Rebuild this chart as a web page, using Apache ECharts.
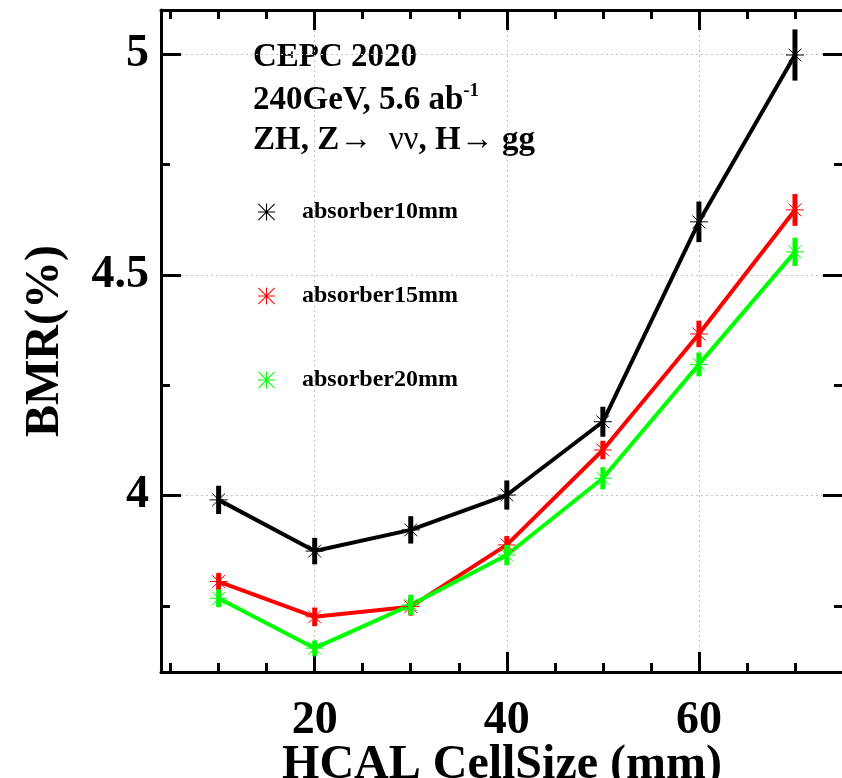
<!DOCTYPE html>
<html>
<head>
<meta charset="utf-8">
<script src="https://cdn.jsdelivr.net/npm/echarts@6/dist/echarts.min.js"></script>
<style>
html,body{margin:0;padding:0;background:#fff;}
#chart{width:842px;height:778px;}
</style>
</head>
<body>
<div id="chart"></div>
<script>
// ---- data ----
const cellSize = [10, 20, 30, 40, 50, 60, 70];
const bmr10 = [3.990, 3.874, 3.922, 4.001, 4.167, 4.620, 4.998];
const err10 = [0.032, 0.030, 0.031, 0.033, 0.034, 0.046, 0.058];
const bmr15 = [3.805, 3.725, 3.748, 3.888, 4.103, 4.366, 4.647];
const err15 = [0.019, 0.021, 0.020, 0.020, 0.021, 0.030, 0.036];
const bmr20 = [3.767, 3.654, 3.752, 3.865, 4.039, 4.297, 4.552];
const err20 = [0.020, 0.017, 0.023, 0.023, 0.025, 0.027, 0.032];
const seriesNames = ['absorber10mm', 'absorber15mm', 'absorber20mm'];
const xMajorTicks = [20, 40, 60];
const xMinorTicks = [5, 10, 15, 20, 25, 30, 35, 40, 45, 50, 55, 60, 65, 70];
const yMajorTicks = [4, 4.5, 5];
const yMinorTicks = [3.75, 4, 4.25, 4.5, 4.75, 5];

const SERIF = '"Liberation Serif", "DejaVu Serif", serif';
const colors = ['#000000', '#ff0000', '#00ff00'];
const X_MIN = 4, X_MAX = 75, Y_MIN = 3.6, Y_MAX = 5.1;

const asterisk = 'path://M7.5 0H8.5V16H7.5Z M0 7.5H16V8.5H0Z M0.7 0L16 15.3L15.3 16L0 0.7Z M15.3 0L16 0.7L0.7 16L0 15.3Z';

function pairs(xs, ys, es) {
  return xs.map((x, i) => es ? [x, ys[i], es[i]] : [x, ys[i]]);
}

function renderErr(params, api) {
  const x = api.value(0), y = api.value(1), e = api.value(2);
  const p = api.coord([x, y]);
  const t = api.coord([x, y + e]);
  const b = api.coord([x, y - e]);
  const c = api.visual('color');
  const s = 9, d = 6.4;
  return {
    type: 'group',
    children: [
      {type: 'line', shape: {x1: p[0], y1: t[1], x2: p[0], y2: b[1]}, style: {stroke: c, lineWidth: 5}},
      {type: 'line', shape: {x1: p[0] - s, y1: p[1], x2: p[0] + s, y2: p[1]}, style: {stroke: c, lineWidth: 1}},
      {type: 'line', shape: {x1: p[0], y1: p[1] - s, x2: p[0], y2: p[1] + s}, style: {stroke: c, lineWidth: 1}},
      {type: 'line', shape: {x1: p[0] - d, y1: p[1] - d, x2: p[0] + d, y2: p[1] + d}, style: {stroke: c, lineWidth: 1}},
      {type: 'line', shape: {x1: p[0] - d, y1: p[1] + d, x2: p[0] + d, y2: p[1] - d}, style: {stroke: c, lineWidth: 1}}
    ]
  };
}

const allY = [bmr10, bmr15, bmr20];
const allE = [err10, err15, err20];

const series = [];
allY.forEach((ys, i) => {
  series.push({
    type: 'line', name: 'line' + i, xAxisIndex: 0, yAxisIndex: 0,
    data: pairs(cellSize, ys), showSymbol: false, symbol: 'none',
    lineStyle: {color: colors[i], width: 4}, itemStyle: {color: colors[i]},
    z: 3, silent: true
  });
});
allY.forEach((ys, i) => {
  series.push({
    type: 'custom', name: seriesNames[i], xAxisIndex: 0, yAxisIndex: 0,
    data: pairs(cellSize, ys, allE[i]), renderItem: renderErr,
    itemStyle: {color: colors[i]}, encode: {x: 0, y: 1}, z: 4, silent: true
  });
});

const axisLineStyle = {show: true, lineStyle: {color: '#000', width: 3}};
const gridLine = {show: true, lineStyle: {color: '#c4c4c4', type: [2, 3], width: 1}};

const xAxes = [
  {type: 'value', position: 'bottom', min: X_MIN, max: X_MAX,
   axisLine: axisLineStyle,
   axisTick: {show: true, inside: true, length: 20, customValues: xMajorTicks, lineStyle: {color: '#000', width: 3}},
   axisLabel: {show: true, customValues: xMajorTicks, margin: 26, color: '#000',
     fontFamily: SERIF, fontWeight: 'bold', fontSize: 46},
   splitLine: gridLine,
   name: 'HCAL CellSize (mm)', nameLocation: 'middle', nameGap: 70, nameMoveOverlap: false,
   nameTextStyle: {color: '#000', fontFamily: SERIF, fontWeight: 'bold', fontSize: 48}},
  {type: 'value', position: 'bottom', min: X_MIN, max: X_MAX,
   axisLine: {show: false},
   axisTick: {show: true, inside: true, length: 9, customValues: xMinorTicks, lineStyle: {color: '#000', width: 3}},
   axisLabel: {show: false}, splitLine: {show: false}},
  {type: 'value', position: 'top', min: X_MIN, max: X_MAX,
   axisLine: axisLineStyle,
   axisTick: {show: true, inside: true, length: 20, customValues: xMajorTicks, lineStyle: {color: '#000', width: 3}},
   axisLabel: {show: false}, splitLine: {show: false}},
  {type: 'value', position: 'top', min: X_MIN, max: X_MAX,
   axisLine: {show: false},
   axisTick: {show: true, inside: true, length: 9, customValues: xMinorTicks, lineStyle: {color: '#000', width: 3}},
   axisLabel: {show: false}, splitLine: {show: false}}
];

const yAxes = [
  {type: 'value', position: 'left', min: Y_MIN, max: Y_MAX,
   axisLine: axisLineStyle,
   axisTick: {show: true, inside: true, length: 20, customValues: yMajorTicks, lineStyle: {color: '#000', width: 3}},
   axisLabel: {show: true, customValues: yMajorTicks, margin: 12, color: '#000',
     fontFamily: SERIF, fontWeight: 'bold', fontSize: 46},
   splitLine: gridLine,
   name: 'BMR(%)', nameLocation: 'middle', nameGap: 91, nameRotate: 90, nameMoveOverlap: false,
   nameTextStyle: {color: '#000', fontFamily: SERIF, fontWeight: 'bold', fontSize: 48}},
  {type: 'value', position: 'left', min: Y_MIN, max: Y_MAX,
   axisLine: {show: false},
   axisTick: {show: true, inside: true, length: 9, customValues: yMinorTicks, lineStyle: {color: '#000', width: 3}},
   axisLabel: {show: false}, splitLine: {show: false}},
  {type: 'value', position: 'right', min: Y_MIN, max: Y_MAX,
   axisLine: axisLineStyle,
   axisTick: {show: true, inside: true, length: 20, customValues: yMajorTicks, lineStyle: {color: '#000', width: 3}},
   axisLabel: {show: false}, splitLine: {show: false}},
  {type: 'value', position: 'right', min: Y_MIN, max: Y_MAX,
   axisLine: {show: false},
   axisTick: {show: true, inside: true, length: 9, customValues: yMinorTicks, lineStyle: {color: '#000', width: 3}},
   axisLabel: {show: false}, splitLine: {show: false}}
];

const legendTops = [195, 279, 363];
const legends = seriesNames.map((n, i) => ({
  data: [{name: n, icon: asterisk}],
  left: 253, top: legendTops[i], orient: 'vertical',
  itemWidth: 17, itemHeight: 17, selectedMode: false,
  textStyle: {color: '#000', fontFamily: SERIF, fontWeight: 'bold', fontSize: 24, padding: [0, 0, 0, 22]}
}));

const titleFont = {fontFamily: SERIF, fontWeight: 'bold', fontSize: 33, fill: '#000'};

const option = {
  animation: false,
  backgroundColor: '#fff',
  grid: {left: 161, top: 10, width: 682, height: 662, containLabel: false, outerBoundsMode: 'none'},
  xAxis: xAxes,
  yAxis: yAxes,
  legend: legends,
  series: series,
  graphic: [
    {type: 'text', left: 253, top: 41, style: Object.assign({text: 'CEPC 2020'}, titleFont)},
    {type: 'text', left: 253, top: 82, style: {
      text: '{b|240GeV, 5.6 ab}{s|-1}',
      rich: {
        b: {fontFamily: SERIF, fontWeight: 'bold', fontSize: 33, color: '#000', lineHeight: 36},
        s: {fontFamily: SERIF, fontWeight: 'bold', fontSize: 19, color: '#000', verticalAlign: 'top', lineHeight: 36}
      }}},
    {type: 'text', left: 253, top: 124, style: {
      text: '{b|ZH, Z}{s|\u2192  \u03bd\u03bd}{b|, H}{s|\u2192 }{b|gg}',
      rich: {
        b: {fontFamily: SERIF, fontWeight: 'bold', fontSize: 33, color: '#000'},
        s: {fontFamily: SERIF, fontWeight: 'normal', fontSize: 33, color: '#000'}
      }}}
  ]
};

const chart = echarts.init(document.getElementById('chart'), null, {renderer: 'canvas'});
chart.setOption(option);
</script>
</body>
</html>
